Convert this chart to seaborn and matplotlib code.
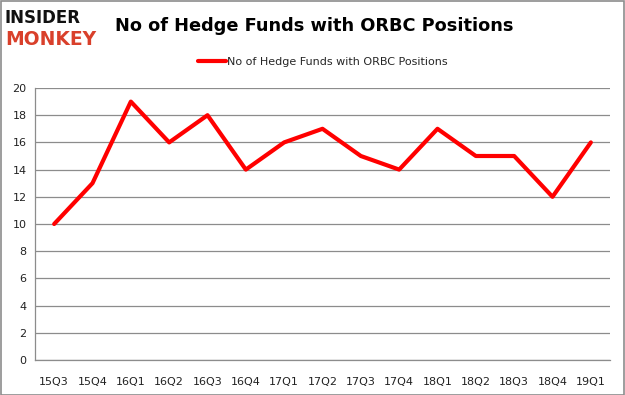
import numpy as np
import pandas as pd
import matplotlib
matplotlib.use("Agg")
import matplotlib.pyplot as plt
import seaborn as sns

quarters = ["15Q3", "15Q4", "16Q1", "16Q2", "16Q3", "16Q4", "17Q1", "17Q2",
            "17Q3", "17Q4", "18Q1", "18Q2", "18Q3", "18Q4", "19Q1"]
funds = [10, 13, 19, 16, 18, 14, 16, 17, 15, 14, 17, 15, 15, 12, 16]
series_name = "No of Hedge Funds with ORBC Positions"

df = pd.DataFrame({"quarter": quarters, "funds": funds})
df["pos"] = np.arange(len(df))

sns.set_style("white")
plt.rcParams["font.family"] = ["DejaVu Sans"]

fig = plt.figure(figsize=(6.25, 3.95), dpi=100)
ax = fig.add_axes([35 / 625, 35 / 395, 575 / 625, 272 / 395])

ax.yaxis.grid(True, color="#8c8c8c", linewidth=0.9)
ax.set_axisbelow(True)
sns.lineplot(data=df, x="pos", y="funds", color="#ff0000", linewidth=3,
             label=series_name, ax=ax)

ax.set_xlim(-0.5, len(quarters) - 0.5)
ax.set_ylim(0, 20)
ax.set_yticks(range(0, 21, 2))
ax.set_xticks(df["pos"])
ax.set_xticklabels(quarters)
ax.set_xticks(np.arange(-0.5, len(quarters), 1), minor=True)
ax.tick_params(axis="x", which="major", length=0, labelsize=8, pad=12,
               labelcolor="#222222")
ax.tick_params(axis="x", which="minor", length=4, color="#8c8c8c", width=0.9)
ax.tick_params(axis="y", length=0, labelsize=8, pad=6, labelcolor="#222222")
ax.set_xlabel("")
ax.set_ylabel("")
for s in ["top", "right"]:
    ax.spines[s].set_visible(False)
for s in ["left", "bottom"]:
    ax.spines[s].set_color("#8c8c8c")
    ax.spines[s].set_linewidth(0.9)

ax.legend(loc="center", bbox_to_anchor=(0.5, 1.095), frameon=False,
          fontsize=8, handlelength=2.5, handletextpad=0.1)

fig.text(0.184, 0.933, "No of Hedge Funds with ORBC Positions", fontsize=12.8,
         fontweight="bold", va="center", ha="left", color="black")
fig.text(0.008, 0.955, "INSIDER", fontsize=12, fontweight="heavy",
         va="center", ha="left", color="#111111")
fig.text(0.008, 0.9, "MONKEY", fontsize=13.5, fontweight="heavy",
         va="center", ha="left", color="#d9402b")

fig.patches.append(plt.Rectangle((0.001, 0.001), 0.997, 0.997, transform=fig.transFigure,
                                 fill=False, edgecolor="#8c8c8c", linewidth=1.2))

fig.savefig("out.png", dpi=100)
